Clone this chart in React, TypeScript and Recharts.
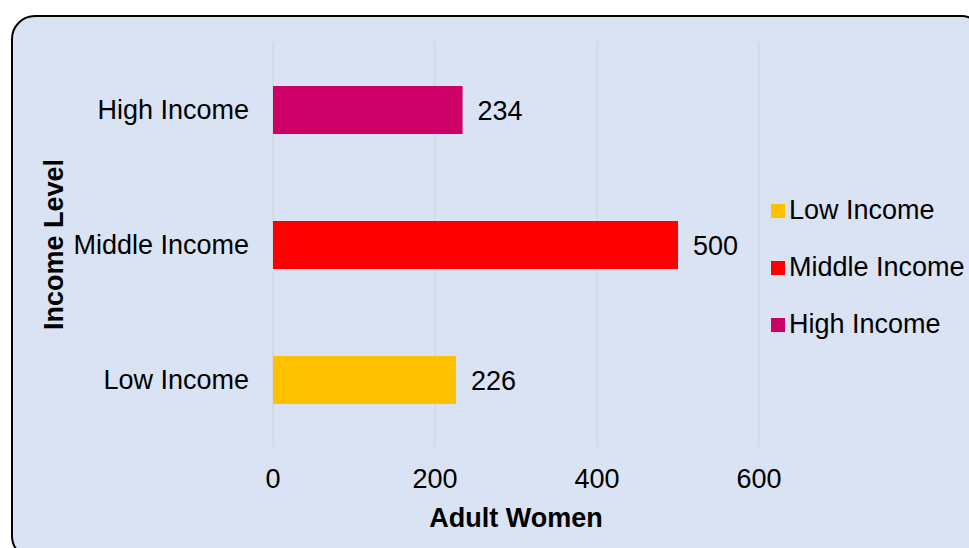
import React from "react";
import { BarChart, Bar, XAxis, YAxis, CartesianGrid, Cell, LabelList, Legend } from "recharts";

const categories = ["Low Income", "Middle Income", "High Income"];
const values = [226, 500, 234];
const colors = ["#FFC000", "#FF0000", "#CC0066"];
const xTicks = [0, 200, 400, 600];
const xTitle = "Adult Women";
const yTitle = "Income Level";

const data = categories.map((name, i) => ({ name, value: values[i] }));

const FONT = "'Liberation Sans', Arial, sans-serif";
const FS = 27;

const LegendContent = () => (
  <div style={{ fontFamily: FONT, fontSize: FS, color: "#000" }}>
    {categories.map((c, i) => (
      <div key={c} style={{ display: "flex", alignItems: "center", height: 57, whiteSpace: "nowrap" }}>
        <span style={{ display: "inline-block", width: 14, height: 14, background: colors[i], marginRight: 4 }} />
        <span>{c}</span>
      </div>
    ))}
  </div>
);

export default function App() {
  return (
    <div style={{ position: "absolute", left: 0, top: 0, width: 969, height: 548, overflow: "hidden", background: "#fff" }}>
      <div
        style={{
          position: "absolute",
          left: 11,
          top: 15,
          width: 974,
          height: 545,
          boxSizing: "border-box",
          border: "2px solid #000",
          borderRadius: 24,
          background: "#DAE3F3",
        }}
      />
      <div style={{ position: "absolute", left: 0, top: 0 }}>
        <BarChart
          width={969}
          height={548}
          data={data}
          layout="vertical"
          margin={{ top: 42, right: 210, bottom: 0, left: 0 }}
          style={{ fontFamily: FONT }}
        >
          <CartesianGrid horizontal={false} stroke="#D2D2D2" strokeWidth={1} />
          <XAxis
            type="number"
            domain={[0, 600]}
            ticks={xTicks}
            axisLine={false}
            tickLine={false}
            tickSize={0}
            tickMargin={22}
            height={101}
            tick={{ fill: "#000", fontSize: FS, fontFamily: FONT }}
            label={{
              value: xTitle,
              content: (props: any) => {
                const vb = props.viewBox;
                return (
                  <text
                    x={vb.x + vb.width / 2}
                    y={527}
                    textAnchor="middle"
                    fontSize={FS}
                    fontWeight="bold"
                    fontFamily={FONT}
                    fill="#000"
                  >
                    {xTitle}
                  </text>
                );
              },
            }}
          />
          <YAxis
            type="category"
            dataKey="name"
            reversed
            width={273}
            axisLine={false}
            tickLine={false}
            tickSize={0}
            tickMargin={24}
            tick={{ fill: "#000", fontSize: FS, fontFamily: FONT }}
            label={{
              value: yTitle,
              content: (props: any) => {
                const vb = props.viewBox;
                const cx = 63;
                const cy = vb.y + vb.height / 2;
                return (
                  <text
                    x={cx}
                    y={cy}
                    transform={`rotate(-90, ${cx}, ${cy})`}
                    textAnchor="middle"
                    fontSize={FS}
                    fontWeight="bold"
                    fontFamily={FONT}
                    fill="#000"
                  >
                    {yTitle}
                  </text>
                );
              },
            }}
          />
          <Legend
            layout="horizontal"
            align="center"
            verticalAlign="middle"
            content={<LegendContent />}
            wrapperStyle={{ left: 771, top: 182, width: 200, height: 171 }}
          />
          <Bar dataKey="value" barSize={48} isAnimationActive={false}>
            {data.map((d, i) => (
              <Cell key={d.name} fill={colors[i]} />
            ))}
            <LabelList
              dataKey="value"
              position="right"
              offset={15}
              fill="#000"
              fontSize={FS}
              fontFamily={FONT}
            />
          </Bar>
        </BarChart>
      </div>
    </div>
  );
}
